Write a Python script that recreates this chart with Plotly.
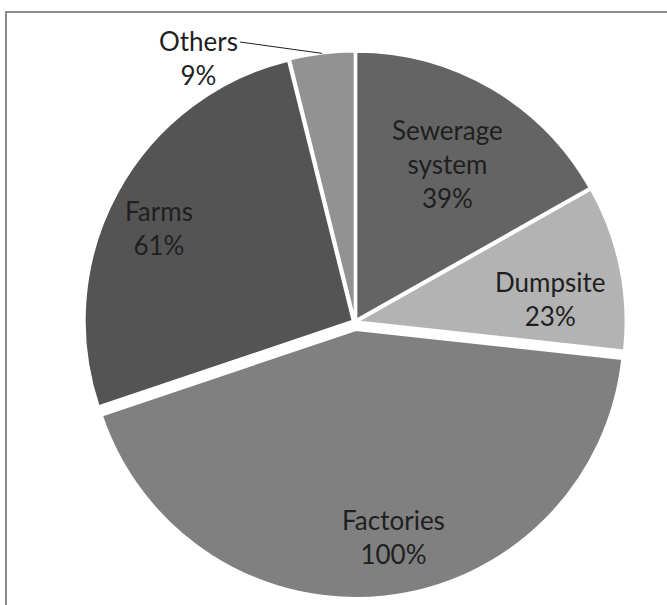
import math
import plotly.graph_objects as go

labels = ["Sewerage<br>system", "Dumpsite", "Factories", "Farms", "Others"]
values = [39, 23, 100, 61, 9]
colors = ["#646464", "#b3b3b3", "#808080", "#545454", "#929292"]
pulls = [0.01, 0.01, 0.03, 0.01, 0.01]

# label placement styles: distance from centre (px) and angular nudge (deg)
label_dist = [183, 197, 218, 217, None]
label_nudge = [0, 5, -4, -3, 0]

W, H = 667, 605
cx, cy, half = 355, 322, 276  # pie domain centre/half size in px
FONT = dict(family="Lato", size=26, color="#1f1f1f")

fig = go.Figure(go.Pie(
    labels=labels,
    values=values,
    sort=False,
    direction="clockwise",
    rotation=0,
    pull=pulls,
    marker=dict(colors=colors, line=dict(color="white", width=2)),
    textinfo="none",
    hoverinfo="label+value",
    showlegend=False,
    domain=dict(x=[(cx - half) / W, (cx + half) / W],
                y=[1 - (cy + half) / H, 1 - (cy - half) / H]),
))

total = sum(values)
cum = 0
mids = []
for v in values:
    mids.append(360 * (cum + v / 2) / total)
    cum += v

for lab, v, mid, d, nud in zip(labels, values, mids, label_dist, label_nudge):
    if d is None:
        continue
    t = math.radians(mid + nud)
    x = cx + d * math.sin(t)
    y = cy - d * math.cos(t)
    fig.add_annotation(x=x / W, y=1 - y / H, xref="paper", yref="paper",
                       text=f"{lab}<br>{v}%", showarrow=False, font=FONT,
                       xanchor="center", yanchor="middle")

# Others label with leader line
r = half / (1 + max(pulls)) * (1 + pulls[4])
theta = math.radians(mids[4])
px = cx + r * math.sin(theta)
py = cy - r * math.cos(theta)

fig.add_annotation(x=198 / W, y=1 - 58 / H, xref="paper", yref="paper",
                   text=f"{labels[4]}<br>{values[4]}%", showarrow=False,
                   font=FONT, xanchor="center", yanchor="middle")
fig.add_shape(type="line", xref="paper", yref="paper",
              x0=240 / W, y0=1 - 42 / H, x1=px / W, y1=1 - py / H,
              line=dict(color="#1f1f1f", width=1))

# chart frame
fig.add_shape(type="rect", xref="paper", yref="paper",
              x0=6 / W, y0=-0.05, x1=1.05, y1=1 - 12 / H,
              line=dict(color="#8c8c8c", width=2), fillcolor="rgba(0,0,0,0)")

fig.update_layout(width=W, height=H, margin=dict(l=0, r=0, t=0, b=0),
                  paper_bgcolor="white", plot_bgcolor="white")

fig.write_html("out.html")
